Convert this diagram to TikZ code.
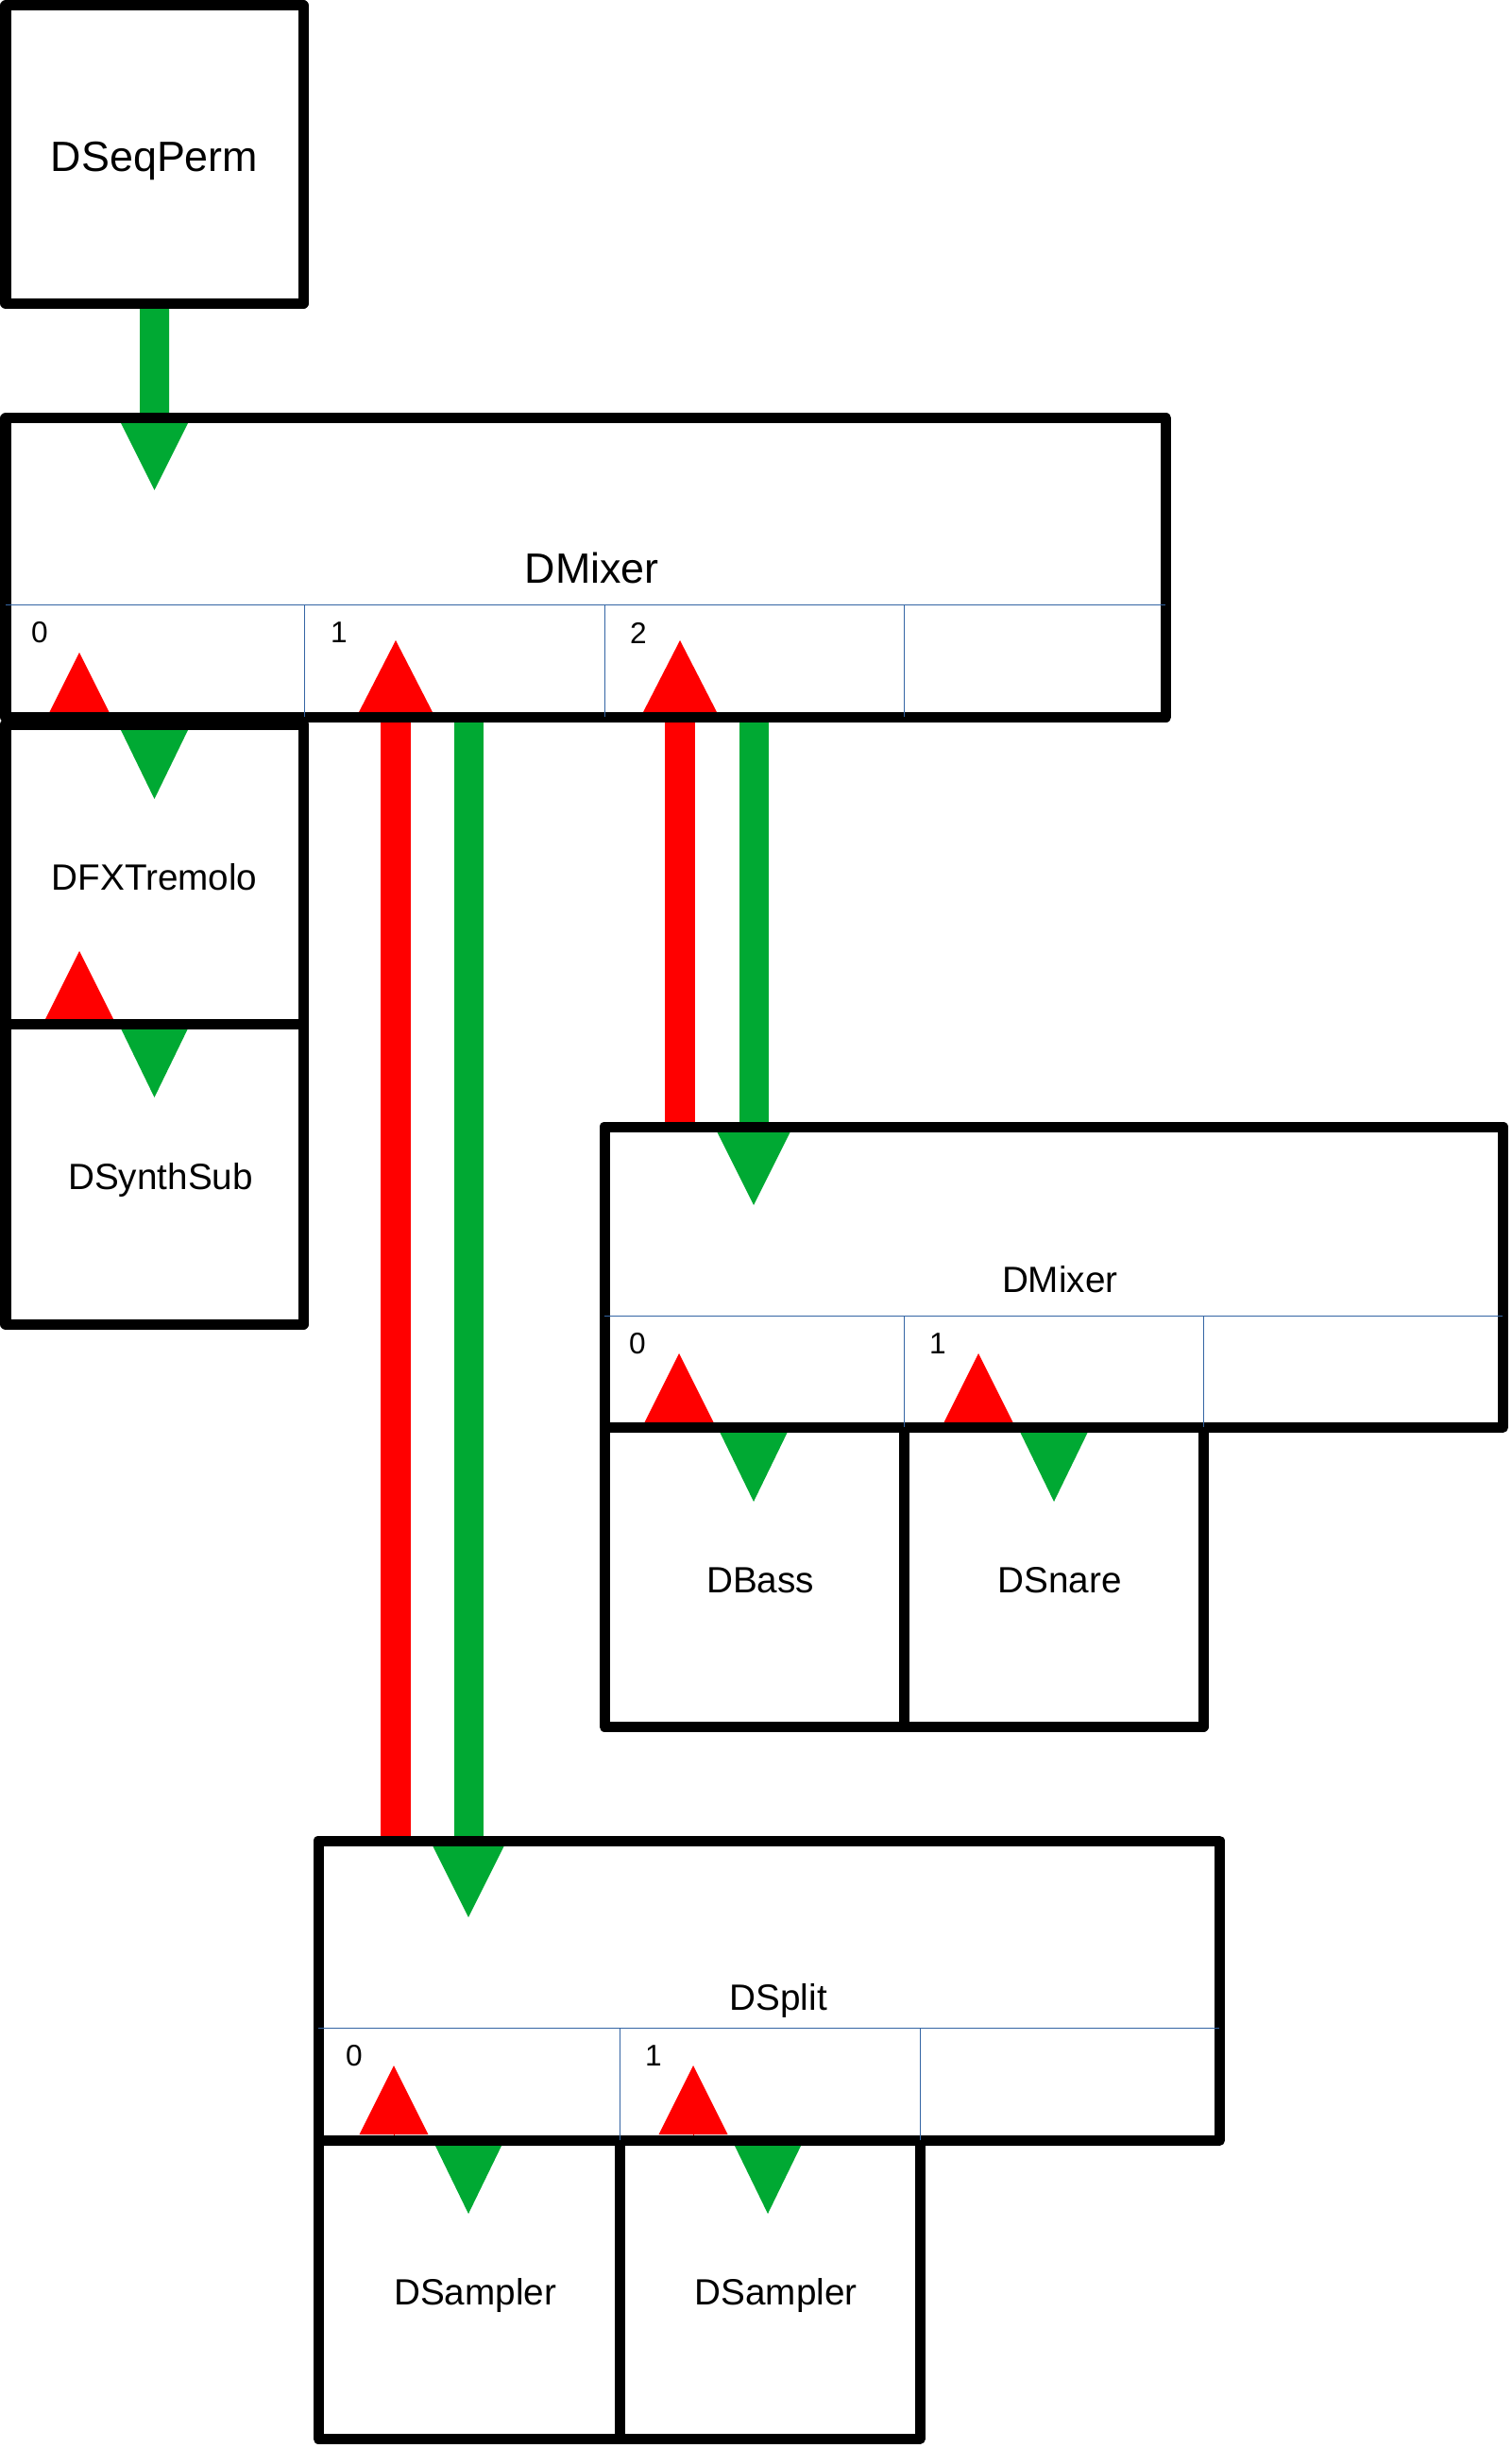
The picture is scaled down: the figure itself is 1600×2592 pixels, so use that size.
\documentclass[tikz,border=0pt]{standalone}
\usepackage{fontspec}
\setmainfont{Liberation Sans}
\usetikzlibrary{arrows.meta,calc,backgrounds}

\definecolor{flowred}{RGB}{255,0,0}
\definecolor{flowgreen}{RGB}{0,169,51}
\definecolor{sepblue}{RGB}{52,101,164}

\tikzset{
  block/.style={draw, line width=0.11cm, line join=round, inner sep=0pt, outer sep=0pt,
    anchor=north west, font=\fontsize{11}{13}\selectfont, text height=9.4pt, text depth=0pt},
  bigblock/.style={block, font=\fontsize{12.75}{15}\selectfont, text height=10.2pt},
  txtshift/.style={execute at begin node={\hspace*{#1}}},
  txtshift/.default=0.13cm,
  portline/.style={draw=sepblue, line width=0.28pt},
  portlbl/.style={inner sep=0pt, font=\fontsize{9}{11}\selectfont},
  redflow/.style={draw=flowred, line width=0.32cm,
    -{Triangle[length=0.77cm,width=0.79cm,line width=0pt]}},
  greenflow/.style={draw=flowgreen, line width=0.31cm,
    -{Triangle[length=0.77cm,width=0.77cm,line width=0pt]}},
  redtip/.style={draw=flowred, line width=0.2pt,
    -{Triangle[length=#1,width=#1,line width=0pt]}},
  redtip/.default=0.73cm,
  greentip/.style={draw=flowgreen, line width=0.2pt,
    -{Triangle[length=0.74cm,width=0.72cm,line width=0pt]}},
}

\begin{document}
\begin{tikzpicture}[x=0.01cm, y=-0.01cm]
\useasboundingbox (0,0) rectangle (1600,2592);

% blocks
\node[bigblock, minimum width=3.15cm, minimum height=3.15cm] (seqperm) at (6,6) {DSeqPerm};
\node[bigblock, txtshift, minimum width=12.28cm, minimum height=3.16cm, text height=9.1pt] (mixerA) at (6,443) {DMixer};
\node[block, minimum width=3.15cm, minimum height=3.17cm] (tremolo) at (6,767) {DFXTremolo};
\node[block, txtshift, minimum width=3.15cm, minimum height=3.18cm] (synthsub) at (6,1084) {DSynthSub};
\node[block, txtshift, minimum width=9.51cm, minimum height=3.18cm] (mixerB) at (640,1193) {DMixer};
\node[block, txtshift, minimum width=3.17cm, minimum height=3.17cm] (bass) at (640,1511) {DBass};
\node[block, txtshift, minimum width=3.17cm, minimum height=3.17cm] (snare) at (957,1511) {DSnare};
\node[block, txtshift=0.2cm, minimum width=9.54cm, minimum height=3.17cm, text height=12pt] (split) at (337,1949) {DSplit};
\node[block, txtshift, minimum width=3.19cm, minimum height=3.16cm] (samplerA) at (337,2266) {DSampler};
\node[block, txtshift, minimum width=3.18cm, minimum height=3.16cm] (samplerB) at (656,2266) {DSampler};

% port rows
\draw[portline] (6,640) -- (1234,640);
\draw[portline] (640,1393) -- (1591,1393);
\draw[portline] (337,2147) -- (1291,2147);
\foreach \x in {322,640,957} \draw[portline] (\x,640) -- (\x,759);
\foreach \x in {957,1274} \draw[portline] (\x,1393) -- (\x,1511);
\foreach \x in {656,974} \draw[portline] (\x,2147) -- (\x,2266);

\foreach \x/\n in {42/0,359/1,676/2} \node[portlbl] (mixerA-l\n) at (\x,670) {\n};
\foreach \x/\n in {675/0,993/1} \node[portlbl] (mixerB-l\n) at (\x,1423) {\n};
\foreach \x/\n in {375/0,692/1} \node[portlbl] (split-l\n) at (\x,2177) {\n};

% tips
\coordinate (mixerA-in) at (163.5,519);
\coordinate (mixerA-p0) at (84,691);
\coordinate (mixerA-p1) at (419,678);
\coordinate (mixerA-p2) at (720,678);
\coordinate (tremolo-in) at (163.5,846);
\coordinate (tremolo-p0) at (84,1007);
\coordinate (synthsub-in) at (163.5,1162);
\coordinate (mixerB-in) at (798,1276);
\coordinate (mixerB-p0) at (719,1433);
\coordinate (mixerB-p1) at (1036,1433);
\coordinate (bass-in) at (798,1590);
\coordinate (snare-in) at (1116,1590);
\coordinate (split-in) at (496,2030);
\coordinate (split-p0) at (417,2187);
\coordinate (split-p1) at (734,2187);
\coordinate (samplerA-in) at (496,2344);
\coordinate (samplerB-in) at (813,2344);

\begin{scope}[on background layer]
\draw[greenflow] (seqperm.south) -- (mixerA-in);
\draw[redflow] (split.north -| mixerA-p1) -- (mixerA-p1);
\draw[greenflow] (mixerA.south -| split-in) -- (split-in);
\draw[redflow] (mixerB.north -| mixerA-p2) -- (mixerA-p2);
\draw[greenflow] (mixerA.south -| mixerB-in) -- (mixerB-in);

\draw[redtip=0.63cm] (tremolo.north -| mixerA-p0) -- (mixerA-p0);
\draw[greentip] (mixerA.south -| tremolo-in) -- (tremolo-in);
\draw[redtip] (synthsub.north -| tremolo-p0) -- (tremolo-p0);
\draw[greentip] (tremolo.south -| synthsub-in) -- (synthsub-in);
\draw[redtip] (bass.north -| mixerB-p0) -- (mixerB-p0);
\draw[greentip] (mixerB.south -| bass-in) -- (bass-in);
\draw[redtip] (snare.north -| mixerB-p1) -- (mixerB-p1);
\draw[greentip] (mixerB.south -| snare-in) -- (snare-in);
\draw[redtip] (samplerA.north -| split-p0) -- (split-p0);
\draw[greentip] (split.south -| samplerA-in) -- (samplerA-in);
\draw[redtip] (samplerB.north -| split-p1) -- (split-p1);
\draw[greentip] (split.south -| samplerB-in) -- (samplerB-in);
\end{scope}

\end{tikzpicture}
\end{document}
